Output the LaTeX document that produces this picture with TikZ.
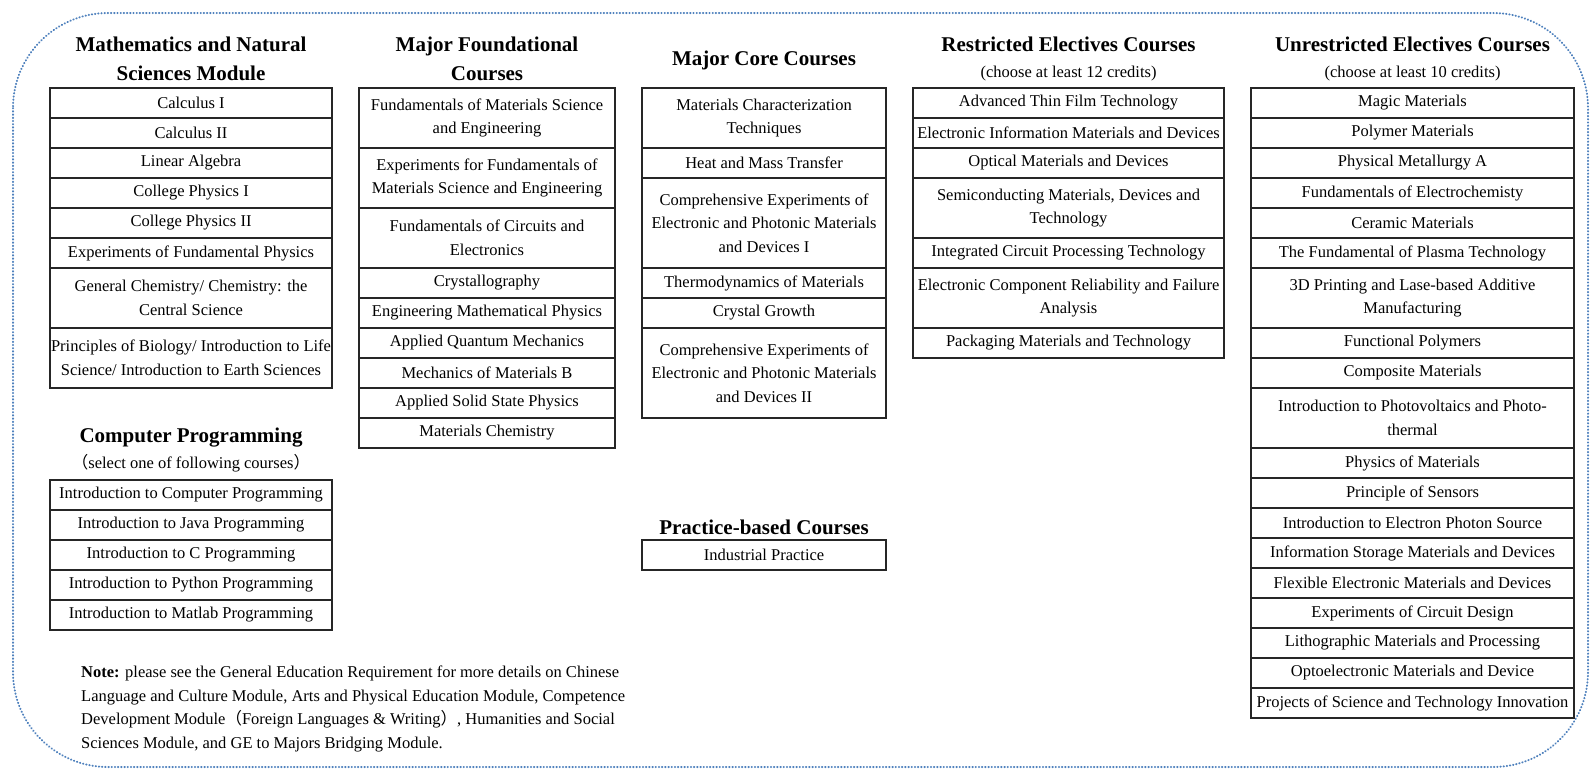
\documentclass[tikz,border=0pt]{standalone}
\usepackage{fontspec}
\setmainfont{Liberation Serif}
\newfontfamily\cjk{Noto Sans CJK SC}
\usetikzlibrary{positioning}

\definecolor{dotblue}{RGB}{79,129,189}

\begin{document}
\begin{tikzpicture}[
    x=1pt, y=-1pt,
    course/.style={draw=black!85, line width=1.1pt, minimum width=#1, minimum height=30pt, inner sep=0pt, outer sep=0pt, align=center, font={\fontsize{16.5}{23.5}\selectfont}},
    rows2/.style={minimum height=60pt},
    rows3/.style={minimum height=90pt},
    title/.style={align=center, inner sep=0pt, font={\fontsize{21}{29}\selectfont\bfseries}},
    subtitle/.style={inner sep=0pt, font={\fontsize{16.5}{23.5}\selectfont}},
    frame/.style={draw=dotblue, line width=2pt, line cap=round, dash pattern=on 0.4pt off 2.8pt, rounded corners=95pt}
]
\useasboundingbox (0,0) rectangle (1590,769);
\draw[frame] (13,13) rectangle (1588,767);

% mathematics and natural sciences
\node[title] (mhead) at (191,59) {Mathematics and Natural\\Sciences Module};
\node[course=282pt] (m1) at (191,103) {Calculus I};
\node[course=282pt, below=0pt of m1] (m2) {Calculus II};
\node[course=282pt, below=0pt of m2] (m3) {Linear Algebra};
\node[course=282pt, below=0pt of m3] (m4) {College Physics I};
\node[course=282pt, below=0pt of m4] (m5) {College Physics II};
\node[course=282pt, below=0pt of m5] (m6) {Experiments of Fundamental Physics};
\node[course=282pt, rows2, below=0pt of m6] (m7) {General Chemistry/ Chemistry: the\\Central Science};
\node[course=282pt, rows2, below=0pt of m7] (m8) {Principles of Biology/ Introduction to Life\\Science/ Introduction to Earth Sciences};

% computer programming
\node[title] (chead) at (191,438) {Computer Programming};
\node[subtitle] (csub) at (191,463) {{\cjk （}select one of following courses{\cjk ）}};
\node[course=282pt] (c1) at (191,495) {Introduction to Computer Programming};
\node[course=282pt, below=0pt of c1] (c2) {Introduction to Java Programming};
\node[course=282pt, below=0pt of c2] (c3) {Introduction to C Programming};
\node[course=282pt, below=0pt of c3] (c4) {Introduction to Python Programming};
\node[course=282pt, below=0pt of c4] (c5) {Introduction to Matlab Programming};

% major foundational
\node[title] (fhead) at (487,59) {Major Foundational\\Courses};
\node[course=256pt, rows2] (f1) at (487,118) {Fundamentals of Materials Science\\and Engineering};
\node[course=256pt, rows2, below=0pt of f1] (f2) {Experiments for Fundamentals of\\Materials Science and Engineering};
\node[course=256pt, rows2, below=0pt of f2] (f3) {Fundamentals of Circuits and\\Electronics};
\node[course=256pt, below=0pt of f3] (f4) {Crystallography};
\node[course=256pt, below=0pt of f4] (f5) {Engineering Mathematical Physics};
\node[course=256pt, below=0pt of f5] (f6) {Applied Quantum Mechanics};
\node[course=256pt, below=0pt of f6] (f7) {Mechanics of Materials B};
\node[course=256pt, below=0pt of f7] (f8) {Applied Solid State Physics};
\node[course=256pt, below=0pt of f8] (f9) {Materials Chemistry};

% major core
\node[title] (khead) at (764,60) {Major Core Courses};
\node[course=244pt, rows2] (k1) at (764,118) {Materials Characterization\\Techniques};
\node[course=244pt, below=0pt of k1] (k2) {Heat and Mass Transfer};
\node[course=244pt, rows3, below=0pt of k2] (k3) {Comprehensive Experiments of\\Electronic and Photonic Materials\\and Devices I};
\node[course=244pt, below=0pt of k3] (k4) {Thermodynamics of Materials};
\node[course=244pt, below=0pt of k4] (k5) {Crystal Growth};
\node[course=244pt, rows3, below=0pt of k5] (k6) {Comprehensive Experiments of\\Electronic and Photonic Materials\\and Devices II};

% practice
\node[title] (phead) at (764,527) {Practice-based Courses};
\node[course=244pt] (p1) at (764,555) {Industrial Practice};

% restricted electives
\node[title] (rhead) at (1068.5,44) {Restricted Electives Courses};
\node[subtitle] (rsub) at (1068.5,74) {(choose at least 12 credits)};
\node[course=311pt] (r1) at (1068.5,103) {Advanced Thin Film Technology};
\node[course=311pt, below=0pt of r1] (r2) {Electronic Information Materials and Devices};
\node[course=311pt, below=0pt of r2] (r3) {Optical Materials and Devices};
\node[course=311pt, rows2, below=0pt of r3] (r4) {Semiconducting Materials, Devices and\\Technology};
\node[course=311pt, below=0pt of r4] (r5) {Integrated Circuit Processing Technology};
\node[course=311pt, rows2, below=0pt of r5] (r6) {Electronic Component Reliability and Failure\\Analysis};
\node[course=311pt, below=0pt of r6] (r7) {Packaging Materials and Technology};

% unrestricted electives
\node[title] (uhead) at (1412.5,44) {Unrestricted Electives Courses};
\node[subtitle] (usub) at (1412.5,74) {(choose at least 10 credits)};
\node[course=323pt] (u1) at (1412.5,103) {Magic Materials};
\node[course=323pt, below=0pt of u1] (u2) {Polymer Materials};
\node[course=323pt, below=0pt of u2] (u3) {Physical Metallurgy A};
\node[course=323pt, below=0pt of u3] (u4) {Fundamentals of Electrochemisty};
\node[course=323pt, below=0pt of u4] (u5) {Ceramic Materials};
\node[course=323pt, below=0pt of u5] (u6) {The Fundamental of Plasma Technology};
\node[course=323pt, rows2, below=0pt of u6] (u7) {3D Printing and Lase-based Additive\\Manufacturing};
\node[course=323pt, below=0pt of u7] (u8) {Functional Polymers};
\node[course=323pt, below=0pt of u8] (u9) {Composite Materials};
\node[course=323pt, rows2, below=0pt of u9] (u10) {Introduction to Photovoltaics and Photo-\\thermal};
\node[course=323pt, below=0pt of u10] (u11) {Physics of Materials};
\node[course=323pt, below=0pt of u11] (u12) {Principle of Sensors};
\node[course=323pt, below=0pt of u12] (u13) {Introduction to Electron Photon Source};
\node[course=323pt, below=0pt of u13] (u14) {Information Storage Materials and Devices};
\node[course=323pt, below=0pt of u14] (u15) {Flexible Electronic Materials and Devices};
\node[course=323pt, below=0pt of u15] (u16) {Experiments of Circuit Design};
\node[course=323pt, below=0pt of u16] (u17) {Lithographic Materials and Processing};
\node[course=323pt, below=0pt of u17] (u18) {Optoelectronic Materials and Device};
\node[course=323pt, below=0pt of u18] (u19) {Projects of Science and Technology Innovation};

% general education note
\node[subtitle, anchor=north west, align=left] (gnote) at (81,666) {\textbf{Note:} please see the General Education Requirement for more details on Chinese\\
Language and Culture Module, Arts and Physical Education Module, Competence\\
Development Module{\cjk （}Foreign Languages \& Writing{\cjk ）}, Humanities and Social\\
Sciences Module, and GE to Majors Bridging Module.};
\end{tikzpicture}
\end{document}
